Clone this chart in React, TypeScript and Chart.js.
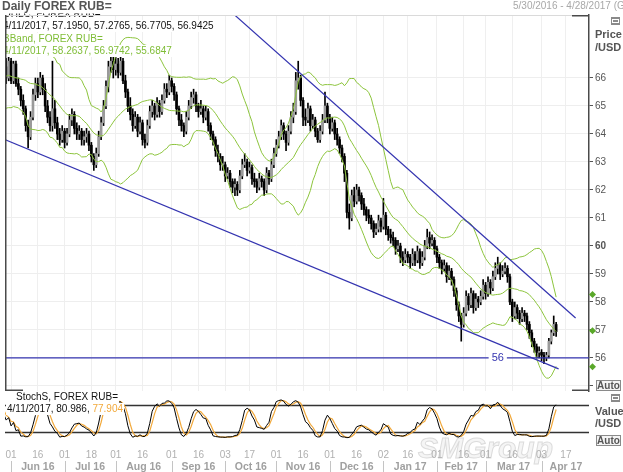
import React, { useEffect, useRef } from 'react';
import { Chart, registerables } from 'chart.js';

Chart.register(...registerables);

const FONT = '"Liberation Sans", Arial, sans-serif';
Chart.defaults.font.family = FONT;

// ---------------- data (weekdays, first value = 2016-05-02) ----------------
const firstDate = '2016-05-02';

const open = [
  64.7, 65.0, 65.9, 66.8, 67.0, 66.3, 65.8, 65.9, 65.2, 64.9, 65.3, 65.4, 65.6, 66.1, 66.2, 66.5, 66.9, 66.7, 66.4, 66.0,
  66.4, 66.0, 66.6, 65.9, 66.5, 65.8, 65.6, 65.2, 64.9, 64.3,
  63.9, 64.6, 65.4, 65.8, 65.5, 66.0, 65.6, 65.0, 64.6, 64.3,
  64.9, 64.4, 64.0, 63.8, 64.1, 63.7, 64.0, 64.5, 64.7, 64.2,
  64.0, 64.1, 63.8, 63.9, 64.0, 63.6, 63.2, 62.9, 63.3, 63.9,
  64.4, 65.0, 65.7, 66.4, 66.6, 66.3, 66.5, 66.2, 66.6, 65.9,
  65.5, 65.0, 64.7, 64.3, 64.6, 64.1, 64.4, 63.8, 63.7, 64.3,
  64.8, 65.0, 64.7, 65.1, 64.8, 65.2, 65.6, 65.5, 65.9, 65.7,
  65.4, 64.9, 64.5, 64.3, 64.1, 64.6, 65.0, 65.3, 65.4, 65.0,
  64.8, 64.9, 64.6, 64.8, 64.3, 64.0, 63.8, 63.4, 63.2, 62.9,
  62.9, 62.5, 62.6, 62.3, 62.1, 62.2, 62.0, 62.5, 62.9, 63.0,
  62.7, 62.8, 62.4, 62.3, 62.1, 62.4, 62.3, 62.0, 62.6, 62.4,
  62.9, 63.3, 63.6, 63.9, 64.3, 64.0, 63.7, 64.1, 64.6, 64.8,
  65.9, 66.0, 65.2, 64.6, 64.5, 64.9, 64.3, 64.5, 64.1, 63.8,
  64.1, 64.5, 65.0, 64.6, 64.2, 64.4, 64.0, 63.8, 63.5, 63.2,
  62.6, 61.2, 61.0, 61.8, 61.6, 62.0, 61.8, 61.5, 61.3, 61.1,
  61.0, 60.8, 60.5, 60.6, 60.9, 60.7, 61.1, 60.6, 60.4, 60.3,
  60.2, 59.9, 60.0, 59.6, 59.5, 59.7, 59.6, 59.4, 59.7, 59.5,
  59.8, 59.4, 59.6, 60.0, 60.3, 60.1, 60.2, 59.9, 59.6, 59.4,
  59.2, 59.3, 58.9, 59.1, 58.8, 58.4, 57.9, 57.5, 57.2, 57.6,
  58.2, 57.9, 58.3, 57.8, 58.1, 58.0, 58.2, 58.6, 58.3, 58.7,
  58.5, 58.9, 59.2, 59.3, 59.0, 59.1, 59.2, 58.9, 58.0, 57.5,
  57.8, 57.6, 57.4, 57.6, 57.5, 57.2, 56.9, 56.6, 56.4, 56.2,
  56.2, 56.1, 56.0, 56.1, 56.6, 56.9, 57.195,
];

const high = [
  65.3, 66.1, 67.0, 67.3, 67.1, 66.5, 66.2, 66.0, 65.4, 65.5, 65.7, 65.8, 66.3, 66.5, 66.7, 67.1, 67.0, 66.9, 66.6, 66.6,
  66.7, 66.8, 66.7, 66.6, 66.6, 66.0, 65.7, 65.4, 65.0, 64.5,
  64.8, 65.6, 66.0, 66.0, 66.2, 66.1, 65.8, 65.2, 64.8, 66.6,
  65.2, 64.6, 64.2, 64.3, 64.2, 64.2, 64.7, 64.9, 64.8, 64.4,
  64.3, 64.2, 64.1, 64.2, 64.1, 63.7, 63.3, 63.5, 64.1, 64.6,
  65.2, 65.9, 66.6, 66.9, 66.8, 66.8, 66.7, 66.9, 66.7, 66.1,
  65.6, 65.3, 64.9, 64.8, 64.7, 64.6, 64.5, 64.0, 64.5, 65.0,
  65.2, 65.1, 65.3, 65.2, 65.4, 65.8, 65.8, 66.1, 66.0, 65.8,
  65.5, 65.0, 64.7, 64.4, 64.8, 65.2, 65.5, 65.6, 65.5, 65.1,
  65.2, 65.0, 65.0, 64.9, 64.4, 64.1, 63.9, 63.6, 63.3, 63.2,
  63.0, 62.8, 62.7, 62.4, 62.4, 62.3, 62.7, 63.1, 63.3, 63.1,
  63.0, 62.9, 62.6, 62.4, 62.6, 62.5, 62.4, 62.8, 62.7, 63.1,
  63.5, 63.8, 64.1, 64.5, 64.4, 64.1, 64.3, 64.8, 65.1, 66.2,
  66.6, 66.1, 65.3, 64.9, 65.1, 65.0, 64.7, 64.6, 64.2, 64.3,
  64.7, 65.5, 65.1, 64.7, 64.6, 64.5, 64.2, 63.9, 63.6, 63.3,
  62.7, 61.5, 62.0, 62.1, 62.2, 62.1, 61.9, 61.7, 61.4, 61.3,
  61.1, 60.9, 60.8, 61.1, 61.0, 61.7, 61.2, 60.7, 60.6, 60.5,
  60.3, 60.2, 60.1, 59.8, 59.9, 59.8, 59.7, 59.9, 59.8, 60.0,
  59.9, 59.8, 60.2, 60.6, 60.5, 60.4, 60.3, 60.0, 59.7, 59.5,
  59.5, 59.4, 59.3, 59.2, 58.9, 58.5, 58.0, 57.6, 57.8, 58.4,
  58.3, 58.5, 58.4, 58.3, 58.2, 58.4, 58.8, 58.7, 58.9, 58.8,
  59.1, 59.4, 59.6, 59.4, 59.3, 59.4, 59.3, 59.0, 58.1, 58.0,
  57.9, 57.7, 57.8, 57.7, 57.6, 57.3, 57.0, 56.7, 56.5, 56.4,
  56.3, 56.2, 56.2, 56.7, 57.0, 57.5, 57.2765,
];

const low = [
  64.5, 64.9, 65.7, 66.6, 66.1, 65.6, 65.6, 65.0, 64.7, 64.8, 65.1, 65.2, 65.5, 65.9, 66.0, 66.3, 66.5, 66.2, 65.8, 65.9,
  65.8, 65.9, 65.8, 65.8, 65.7, 65.4, 65.0, 64.7, 64.1, 63.5,
  63.8, 64.5, 65.2, 65.3, 65.4, 65.4, 64.8, 64.4, 64.1, 64.1,
  64.2, 63.8, 63.6, 63.7, 63.5, 63.6, 63.9, 64.3, 64.0, 63.8,
  63.8, 63.6, 63.6, 63.7, 63.4, 63.0, 62.7, 62.8, 63.2, 63.8,
  64.3, 64.9, 65.5, 66.2, 66.0, 66.1, 66.0, 66.1, 65.8, 65.3,
  64.8, 64.5, 64.1, 64.2, 63.9, 64.0, 63.6, 63.5, 63.6, 64.2,
  64.6, 64.5, 64.6, 64.6, 64.7, 65.1, 65.3, 65.4, 65.5, 65.2,
  64.7, 64.3, 64.1, 63.9, 64.0, 64.5, 64.9, 65.1, 64.8, 64.6,
  64.7, 64.4, 64.5, 64.1, 63.8, 63.6, 63.2, 63.0, 62.7, 62.7,
  62.3, 62.4, 62.1, 61.9, 61.8, 61.8, 61.9, 62.4, 62.8, 62.5,
  62.6, 62.2, 62.1, 61.9, 62.0, 62.1, 61.8, 61.9, 62.2, 62.3,
  62.8, 63.2, 63.5, 63.8, 63.8, 63.4, 63.6, 64.0, 64.4, 64.7,
  65.6, 65.0, 64.3, 64.3, 64.4, 64.1, 64.2, 63.9, 63.7, 63.7,
  64.0, 64.4, 64.4, 64.0, 64.1, 63.8, 63.6, 63.3, 63.0, 62.3,
  61.0, 60.6, 60.9, 61.4, 61.5, 61.6, 61.3, 61.1, 60.9, 60.8,
  60.6, 60.3, 60.4, 60.5, 60.5, 60.6, 60.4, 60.2, 60.1, 60.0,
  59.7, 59.8, 59.4, 59.3, 59.4, 59.4, 59.2, 59.3, 59.3, 59.4,
  59.2, 59.3, 59.5, 59.9, 59.9, 60.0, 59.7, 59.4, 59.2, 59.0,
  59.1, 58.7, 58.8, 58.6, 58.2, 57.7, 57.3, 56.6, 57.1, 57.5,
  57.7, 57.8, 57.6, 57.7, 57.8, 57.9, 58.1, 58.1, 58.2, 58.3,
  58.4, 58.8, 59.0, 58.8, 58.9, 59.0, 58.7, 57.9, 57.3, 57.4,
  57.4, 57.2, 57.3, 57.3, 57.0, 56.7, 56.4, 56.2, 56.0, 56.0,
  55.9, 55.8, 55.9, 56.0, 56.5, 56.8, 56.7705,
];

const close = [
  65.0, 65.9, 66.8, 67.0, 66.3, 65.8, 65.9, 65.2, 64.9, 65.3, 65.4, 65.6, 66.1, 66.2, 66.5, 66.9, 66.7, 66.4, 66.0, 66.4,
  66.0, 66.6, 65.9, 66.5, 65.8, 65.6, 65.2, 64.9, 64.3, 63.9,
  64.6, 65.4, 65.8, 65.5, 66.0, 65.6, 65.0, 64.6, 64.3, 64.9,
  64.4, 64.0, 63.8, 64.1, 63.7, 64.0, 64.5, 64.7, 64.2, 64.0,
  64.1, 63.8, 63.9, 64.0, 63.6, 63.2, 62.9, 63.3, 63.9, 64.4,
  65.0, 65.7, 66.4, 66.6, 66.3, 66.5, 66.2, 66.6, 65.9, 65.5,
  65.0, 64.7, 64.3, 64.6, 64.1, 64.4, 63.8, 63.7, 64.3, 64.8,
  65.0, 64.7, 65.1, 64.8, 65.2, 65.6, 65.5, 65.9, 65.7, 65.4,
  64.9, 64.5, 64.3, 64.1, 64.6, 65.0, 65.3, 65.4, 65.0, 64.8,
  64.9, 64.6, 64.8, 64.3, 64.0, 63.8, 63.4, 63.2, 62.9, 62.9,
  62.5, 62.6, 62.3, 62.1, 62.2, 62.0, 62.5, 62.9, 63.0, 62.7,
  62.8, 62.4, 62.3, 62.1, 62.4, 62.3, 62.0, 62.6, 62.4, 62.9,
  63.3, 63.6, 63.9, 64.3, 64.0, 63.7, 64.1, 64.6, 64.8, 65.9,
  66.0, 65.2, 64.6, 64.5, 64.9, 64.3, 64.5, 64.1, 63.8, 64.1,
  64.5, 65.0, 64.6, 64.2, 64.4, 64.0, 63.8, 63.5, 63.2, 62.6,
  61.2, 61.0, 61.8, 61.6, 62.0, 61.8, 61.5, 61.3, 61.1, 61.0,
  60.8, 60.5, 60.6, 60.9, 60.7, 61.1, 60.6, 60.4, 60.3, 60.2,
  59.9, 60.0, 59.6, 59.5, 59.7, 59.6, 59.4, 59.7, 59.5, 59.8,
  59.4, 59.6, 60.0, 60.3, 60.1, 60.2, 59.9, 59.6, 59.4, 59.2,
  59.3, 58.9, 59.1, 58.8, 58.4, 57.9, 57.5, 57.2, 57.6, 58.2,
  57.9, 58.3, 57.8, 58.1, 58.0, 58.2, 58.6, 58.3, 58.7, 58.5,
  58.9, 59.2, 59.3, 59.0, 59.1, 59.2, 58.9, 58.0, 57.5, 57.8,
  57.6, 57.4, 57.6, 57.5, 57.2, 56.9, 56.6, 56.4, 56.2, 56.2,
  56.1, 56.0, 56.1, 56.6, 56.9, 57.2, 56.9425,
];

// axis / annotations
const viewStart = '2016-05-30';
const viewEnd = '2017-04-28';
const priceMin = 54.82;
const priceMax = 68.25;
const priceTicks = [55, 56, 57, 58, 59, 60, 61, 62, 63, 64, 65, 66];
const priceLabels = [56, 57, 58, 59, 60, 61, 62, 63, 64, 65, 66];
const boldPrice = 60;
const tickDates = [
  '2016-06-01', '2016-06-16', '2016-07-01', '2016-07-18', '2016-08-01', '2016-08-16',
  '2016-09-01', '2016-09-16', '2016-10-03', '2016-10-17', '2016-11-01', '2016-11-16',
  '2016-12-01', '2016-12-16', '2017-01-02', '2017-01-16', '2017-02-01', '2017-02-16',
  '2017-03-01', '2017-03-16', '2017-04-03', '2017-04-17',
];
const monthStarts = [
  '2016-06-01', '2016-07-01', '2016-08-01', '2016-09-01', '2016-10-03', '2016-11-01',
  '2016-12-01', '2017-01-02', '2017-02-01', '2017-03-01', '2017-04-03', '2017-05-01',
];
const monthLabels = ['Jun 16', 'Jul 16', 'Aug 16', 'Sep 16', 'Oct 16', 'Nov 16', 'Dec 16', 'Jan 17', 'Feb 17', 'Mar 17', 'Apr 17'];

const upperTrend = [{ d: '2016-10-03', p: 68.55 }, { d: '2017-04-21', p: 57.43 }];
const lowerTrend = [{ d: '2016-05-27', p: 63.82 }, { d: '2017-04-12', p: 55.61 }];
const supportLevel = 56;
const supportLabelDate = '2017-03-08';

const headerTitle = 'Daily FOREX RUB=';
const dateRangeText = '5/30/2016 - 4/28/2017 (GMT)';
const lastDate = '4/11/2017';
const seriesName = 'OHLC, FOREX RUB=';
const bandName = 'BBand, FOREX RUB=';
const bbLast = [58.2637, 56.9742, 55.6847];
const stochName = 'StochS, FOREX RUB=';
const stochLast = [80.986, 77.904];
const stochLevels = [20, 80];
const stochParams = [9, 3, 3];

const GREEN = '#8cc43c';
const GREEN_TXT = '#7fbd36';
const BLUE = '#3434b0';
const ORANGE = '#f2a93b';

// ---------------- helpers ----------------
function wdIndex(s: string) {
  const base = Date.UTC(2016, 4, 30);
  const [y, m, d] = s.split('-').map(Number);
  const days = Math.round((Date.UTC(y, m - 1, d) - base) / 864e5);
  const w = Math.floor(days / 7);
  const r = days - w * 7;
  return w * 5 + Math.min(r, 5);
}
const offset0 = wdIndex(firstDate);
const xMin = wdIndex(viewStart) - 0.5;
const xMax = wdIndex(viewEnd) + 0.5;
const idxOf = (k: number) => k + offset0;
const N = close.length;

function bollinger() {
  const up: any[] = [], mid: any[] = [], lo: any[] = [];
  for (let k = 19; k < N; k++) {
    const w = close.slice(k - 19, k + 1);
    const m = w.reduce((a, b) => a + b, 0) / 20;
    const sd = Math.sqrt(w.reduce((a, b) => a + (b - m) * (b - m), 0) / 20);
    const x = idxOf(k);
    if (x < -1) continue;
    up.push({ x, y: m + 2 * sd });
    mid.push({ x, y: m });
    lo.push({ x, y: m - 2 * sd });
  }
  return { up, mid, lo };
}

function stochastic(period: number, slowing: number, dPer: number) {
  const fast: number[] = close.map((c, k) => {
    if (k < period - 1) return NaN;
    let hh = -Infinity, ll = Infinity;
    for (let j = k - period + 1; j <= k; j++) { hh = Math.max(hh, high[j]); ll = Math.min(ll, low[j]); }
    return hh === ll ? 50 : (100 * (c - ll)) / (hh - ll);
  });
  const sma = (arr: number[], n: number) => arr.map((_, k) => {
    if (k < n - 1) return NaN;
    let s = 0;
    for (let j = k - n + 1; j <= k; j++) s += arr[j];
    return s / n;
  });
  const k = sma(fast, slowing);
  const d = sma(k, dPer);
  const K: any[] = [], D: any[] = [];
  for (let i = 0; i < N; i++) {
    const x = idxOf(i);
    if (x < -1 || isNaN(d[i])) continue;
    K.push({ x, y: k[i] });
    D.push({ x, y: d[i] });
  }
  return { K, D };
}

function bgText(ctx: any, text: string, x: number, y: number, color: string, font: string) {
  ctx.font = font;
  ctx.textBaseline = 'middle';
  ctx.textAlign = 'left';
  const w = ctx.measureText(text).width;
  ctx.fillStyle = '#fff';
  ctx.fillRect(x - 1, y - 6, w + 2, 12);
  ctx.fillStyle = color;
  ctx.fillText(text, x, y);
  return w;
}

function seg(ctx: any, x1: number, y1: number, x2: number, y2: number) {
  ctx.beginPath();
  ctx.moveTo(x1, y1);
  ctx.lineTo(x2, y2);
  ctx.stroke();
}

function drawIcon(ctx: any, x: number, y: number) {
  ctx.fillStyle = '#8a8a8a';
  ctx.fillRect(x, y, 9, 8);
  ctx.fillStyle = '#fff';
  ctx.fillRect(x + 1, y + 2, 7, 4);
  ctx.fillStyle = '#8a8a8a';
  ctx.fillRect(x + 2, y + 3, 5, 2);
}

function drawAuto(ctx: any, x: number, y: number) {
  ctx.fillStyle = '#f4f4f4';
  ctx.fillRect(x, y, 25, 11);
  ctx.strokeStyle = '#8a8a8a';
  ctx.lineWidth = 1;
  ctx.strokeRect(x + 0.5, y + 0.5, 24, 10);
  ctx.fillStyle = '#555';
  ctx.font = `bold 10px ${FONT}`;
  ctx.textAlign = 'center';
  ctx.textBaseline = 'middle';
  ctx.fillText('Auto', x + 12.5, y + 6);
}

// ---------------- main chart ----------------
function mainConfig(): any {
  const vis: number[] = [];
  for (let k = 0; k < N; k++) if (idxOf(k) >= 0) vis.push(k);
  const wicks = vis.map((k) => ({ x: idxOf(k), y: [low[k], high[k]] }));
  const bodies = vis.map((k) => ({ x: idxOf(k), y: [open[k], close[k]] }));
  const bodyColors = vis.map((k) => (close[k] >= open[k] ? '#9a9a9a' : '#000000'));
  const bb = bollinger();
  const tickIdx = tickDates.map(wdIndex);
  const lineDs = (data: any[], color: string, width: number, order: number) => ({
    type: 'line', data, borderColor: color, borderWidth: width, pointRadius: 0, tension: 0, order, fill: false,
  });

  const decor = {
    id: 'mainDecor',
    afterDatasetsDraw(chart: any) {
      const { ctx, chartArea: a, scales } = chart;
      const x = scales.x, y = scales.y;
      ctx.save();
      const lx = x.getPixelForValue(wdIndex(supportLabelDate));
      const ly = y.getPixelForValue(supportLevel);
      ctx.font = `11px ${FONT}`;
      const t = String(supportLevel);
      const w = ctx.measureText(t).width;
      ctx.fillStyle = '#fff';
      ctx.fillRect(lx - w / 2 - 3, ly - 6, w + 6, 12);
      ctx.fillStyle = BLUE;
      ctx.textAlign = 'center';
      ctx.textBaseline = 'middle';
      ctx.fillText(t, lx, ly + 0.5);
      ctx.beginPath();
      ctx.rect(a.left + 1, 13.5, a.right - a.left - 1, a.bottom - 13.5);
      ctx.clip();
      const n = N - 1;
      const f = `10px ${FONT}`;
      bgText(ctx, seriesName, 3, 14, '#111', f);
      bgText(ctx, `${lastDate}, ${open[n].toFixed(4)}, ${high[n].toFixed(4)}, ${low[n].toFixed(4)}, ${close[n].toFixed(4)}`, 3, 26, '#111', f);
      bgText(ctx, bandName, 3, 39, GREEN_TXT, f);
      bgText(ctx, `${lastDate}, ${bbLast.map((v) => v.toFixed(4)).join(', ')}`, 3, 51, GREEN_TXT, f);
      ctx.restore();
    },
    afterDraw(chart: any) {
      const { ctx, chartArea: a, scales } = chart;
      const y = scales.y;
      ctx.save();
      ctx.lineWidth = 1;
      ctx.strokeStyle = '#dadada';
      seg(ctx, a.left, a.top + 0.5, a.right, a.top + 0.5);
      ctx.strokeStyle = '#4a4a4a';
      ctx.lineWidth = 1.5;
      seg(ctx, a.left + 0.75, a.top, a.left + 0.75, a.bottom);
      seg(ctx, a.right - 17, a.top + 0.75, a.right, a.top + 0.75);
      seg(ctx, a.left, a.bottom - 0.75, a.left + 18, a.bottom - 0.75);
      seg(ctx, a.right - 17, a.bottom - 0.75, a.right, a.bottom - 0.75);
      ctx.fillStyle = '#555';
      ctx.font = `bold 12px ${FONT}`;
      ctx.textAlign = 'left';
      ctx.textBaseline = 'middle';
      ctx.fillText(headerTitle, 2, 7);
      ctx.fillStyle = '#a8a8a8';
      ctx.font = `10px ${FONT}`;
      ctx.fillText(dateRangeText, 513, 6);
      ctx.fillStyle = '#555';
      ctx.font = `bold 11px ${FONT}`;
      ctx.fillText('Price', 595, 35);
      ctx.fillText('/USD', 595, 48);
      drawIcon(ctx, 611, 17);
      drawAuto(ctx, 596, 380);
      ctx.fillStyle = '#5aa82a';
      bbLast.forEach((v) => {
        const py = y.getPixelForValue(v);
        ctx.beginPath();
        ctx.moveTo(592.5, py - 3.5);
        ctx.lineTo(596, py);
        ctx.lineTo(592.5, py + 3.5);
        ctx.lineTo(589, py);
        ctx.closePath();
        ctx.fill();
      });
      ctx.restore();
    },
  };

  return {
    type: 'bar',
    data: {
      datasets: [
        { type: 'bar', data: wicks, backgroundColor: '#000', barThickness: 1, grouped: false, order: 20 },
        { type: 'bar', data: bodies, backgroundColor: bodyColors, barThickness: 2, minBarLength: 1, grouped: false, order: 19 },
        lineDs(bb.up, GREEN, 1, 6),
        lineDs(bb.mid, GREEN, 1, 6),
        lineDs(bb.lo, GREEN, 1, 6),
        lineDs(upperTrend.map((p) => ({ x: wdIndex(p.d), y: p.p })), BLUE, 1.2, 4),
        lineDs(lowerTrend.map((p) => ({ x: wdIndex(p.d), y: p.p })), BLUE, 1.2, 4),
        lineDs([{ x: xMin, y: supportLevel }, { x: xMax, y: supportLevel }], BLUE, 1.2, 3),
      ],
    },
    options: {
      animation: false,
      responsive: false,
      events: [],
      layout: { padding: { left: 5, top: 15, right: 0, bottom: 1 } },
      plugins: { legend: { display: false }, tooltip: { enabled: false }, title: { display: false } },
      scales: {
        x: {
          type: 'linear', min: xMin, max: xMax, offset: false,
          afterBuildTicks: (s: any) => { s.ticks = tickIdx.map((v) => ({ value: v })); },
          afterFit: (s: any) => { s.height = 0; s.paddingLeft = 0; s.paddingRight = 0; },
          grid: { color: '#efefef', drawTicks: false, offset: false },
          border: { display: false },
          ticks: { display: false },
        },
        y: {
          position: 'right', min: priceMin, max: priceMax,
          afterBuildTicks: (s: any) => { s.ticks = priceTicks.map((v) => ({ value: v })); },
          afterFit: (s: any) => { s.width = 34; s.paddingTop = 0; s.paddingBottom = 0; },
          grid: { color: '#eeeeee', tickLength: 4, tickColor: '#555', drawTicks: true },
          border: { display: true, color: '#4a4a4a', width: 1.5 },
          ticks: {
            autoSkip: false, padding: 2, color: '#555',
            font: (c: any) => ({ size: 10, family: FONT, weight: c.tick && c.tick.value === boldPrice ? 'bold' : 'normal' }),
            callback: (v: any) => (priceLabels.includes(Number(v)) ? String(v) : ''),
          },
        },
      },
    },
    plugins: [decor],
  };
}

// ---------------- stochastic chart ----------------
function stochConfig(): any {
  const st = stochastic(stochParams[0], stochParams[1], stochParams[2]);
  const tickIdx = tickDates.map(wdIndex);
  const mIdx = monthStarts.map(wdIndex);

  const decor = {
    id: 'stochDecor',
    beforeDatasetsDraw(chart: any) {
      const { ctx, chartArea: a, scales } = chart;
      ctx.save();
      ctx.font = `italic bold 30px ${FONT}`;
      ctx.textAlign = 'left';
      ctx.textBaseline = 'alphabetic';
      ctx.fillStyle = '#f5f5f5';
      ctx.fillText('SMGroup', 418, 66);
      ctx.strokeStyle = '#dcdcdc';
      ctx.lineWidth = 1;
      ctx.strokeText('SMGroup', 418, 66);
      ctx.strokeStyle = '#333';
      ctx.lineWidth = 1.3;
      stochLevels.forEach((v) => {
        const py = Math.round(scales.y.getPixelForValue(v)) + 0.5;
        seg(ctx, a.left, py, a.right, py);
      });
      ctx.restore();
    },
    afterDatasetsDraw(chart: any) {
      const { ctx } = chart;
      ctx.save();
      const f = `10px ${FONT}`;
      bgText(ctx, stochName, 16, 5, '#111', f);
      const first = `${lastDate}, ${stochLast[0].toFixed(3)}, `;
      const w = bgText(ctx, first, 7, 17, '#111', f);
      bgText(ctx, stochLast[1].toFixed(3), 7 + w, 17, ORANGE, f);
      ctx.restore();
    },
    afterDraw(chart: any) {
      const { ctx, scales } = chart;
      const x = scales.x;
      ctx.save();
      ctx.font = `10px ${FONT}`;
      ctx.fillStyle = '#b0b0b0';
      ctx.textAlign = 'center';
      ctx.textBaseline = 'middle';
      tickDates.forEach((d, i) => ctx.fillText(d.slice(8, 10), x.getPixelForValue(tickIdx[i]), 63));
      ctx.strokeStyle = '#c4c4c4';
      ctx.lineWidth = 1;
      mIdx.slice(0, -1).forEach((v) => {
        const px = Math.round(x.getPixelForValue(v)) + 0.5;
        seg(ctx, px, 69, px, 80);
      });
      ctx.font = `bold 10.5px ${FONT}`;
      ctx.fillStyle = '#a0a0a0';
      monthLabels.forEach((m, i) => {
        const cx = (x.getPixelForValue(mIdx[i]) + x.getPixelForValue(mIdx[i + 1])) / 2;
        ctx.fillText(m, cx, 75);
      });
      ctx.fillStyle = '#555';
      ctx.font = `bold 11px ${FONT}`;
      ctx.textAlign = 'left';
      ctx.fillText('Value', 595, 20);
      ctx.fillText('/USD', 595, 32);
      drawIcon(ctx, 611, 2);
      drawAuto(ctx, 596, 43);
      ctx.restore();
    },
  };

  return {
    type: 'line',
    data: {
      datasets: [
        { data: st.K, borderColor: '#000', borderWidth: 1, pointRadius: 0, tension: 0, order: 1 },
        { data: st.D, borderColor: ORANGE, borderWidth: 1.2, pointRadius: 0, tension: 0, order: 2 },
      ],
    },
    options: {
      animation: false,
      responsive: false,
      events: [],
      layout: { padding: { left: 5, top: 4, right: 0, bottom: 0 } },
      plugins: { legend: { display: false }, tooltip: { enabled: false } },
      scales: {
        x: {
          type: 'linear', min: xMin, max: xMax, offset: false,
          grid: { display: false }, border: { display: false }, ticks: { display: false },
          afterFit: (s: any) => { s.height = 31; s.paddingLeft = 0; s.paddingRight = 0; },
        },
        y: {
          position: 'right', min: 0, max: 100,
          grid: { display: false }, border: { display: false }, ticks: { display: false },
          afterFit: (s: any) => { s.width = 34; s.paddingTop = 0; s.paddingBottom = 0; },
        },
      },
    },
    plugins: [decor],
  };
}

export default function App() {
  const mainRef = useRef<HTMLCanvasElement>(null);
  const stochRef = useRef<HTMLCanvasElement>(null);
  useEffect(() => {
    const c1 = new Chart(mainRef.current as HTMLCanvasElement, mainConfig());
    const c2 = new Chart(stochRef.current as HTMLCanvasElement, stochConfig());
    return () => {
      c1.destroy();
      c2.destroy();
    };
  }, []);
  return (
    <div style={{ position: 'absolute', left: 0, top: 0, width: 623, height: 472, background: '#fff', overflow: 'hidden' }}>
      <canvas ref={mainRef} width={623} height={392} style={{ position: 'absolute', left: 0, top: 0 }} />
      <canvas ref={stochRef} width={623} height={80} style={{ position: 'absolute', left: 0, top: 392 }} />
    </div>
  );
}
